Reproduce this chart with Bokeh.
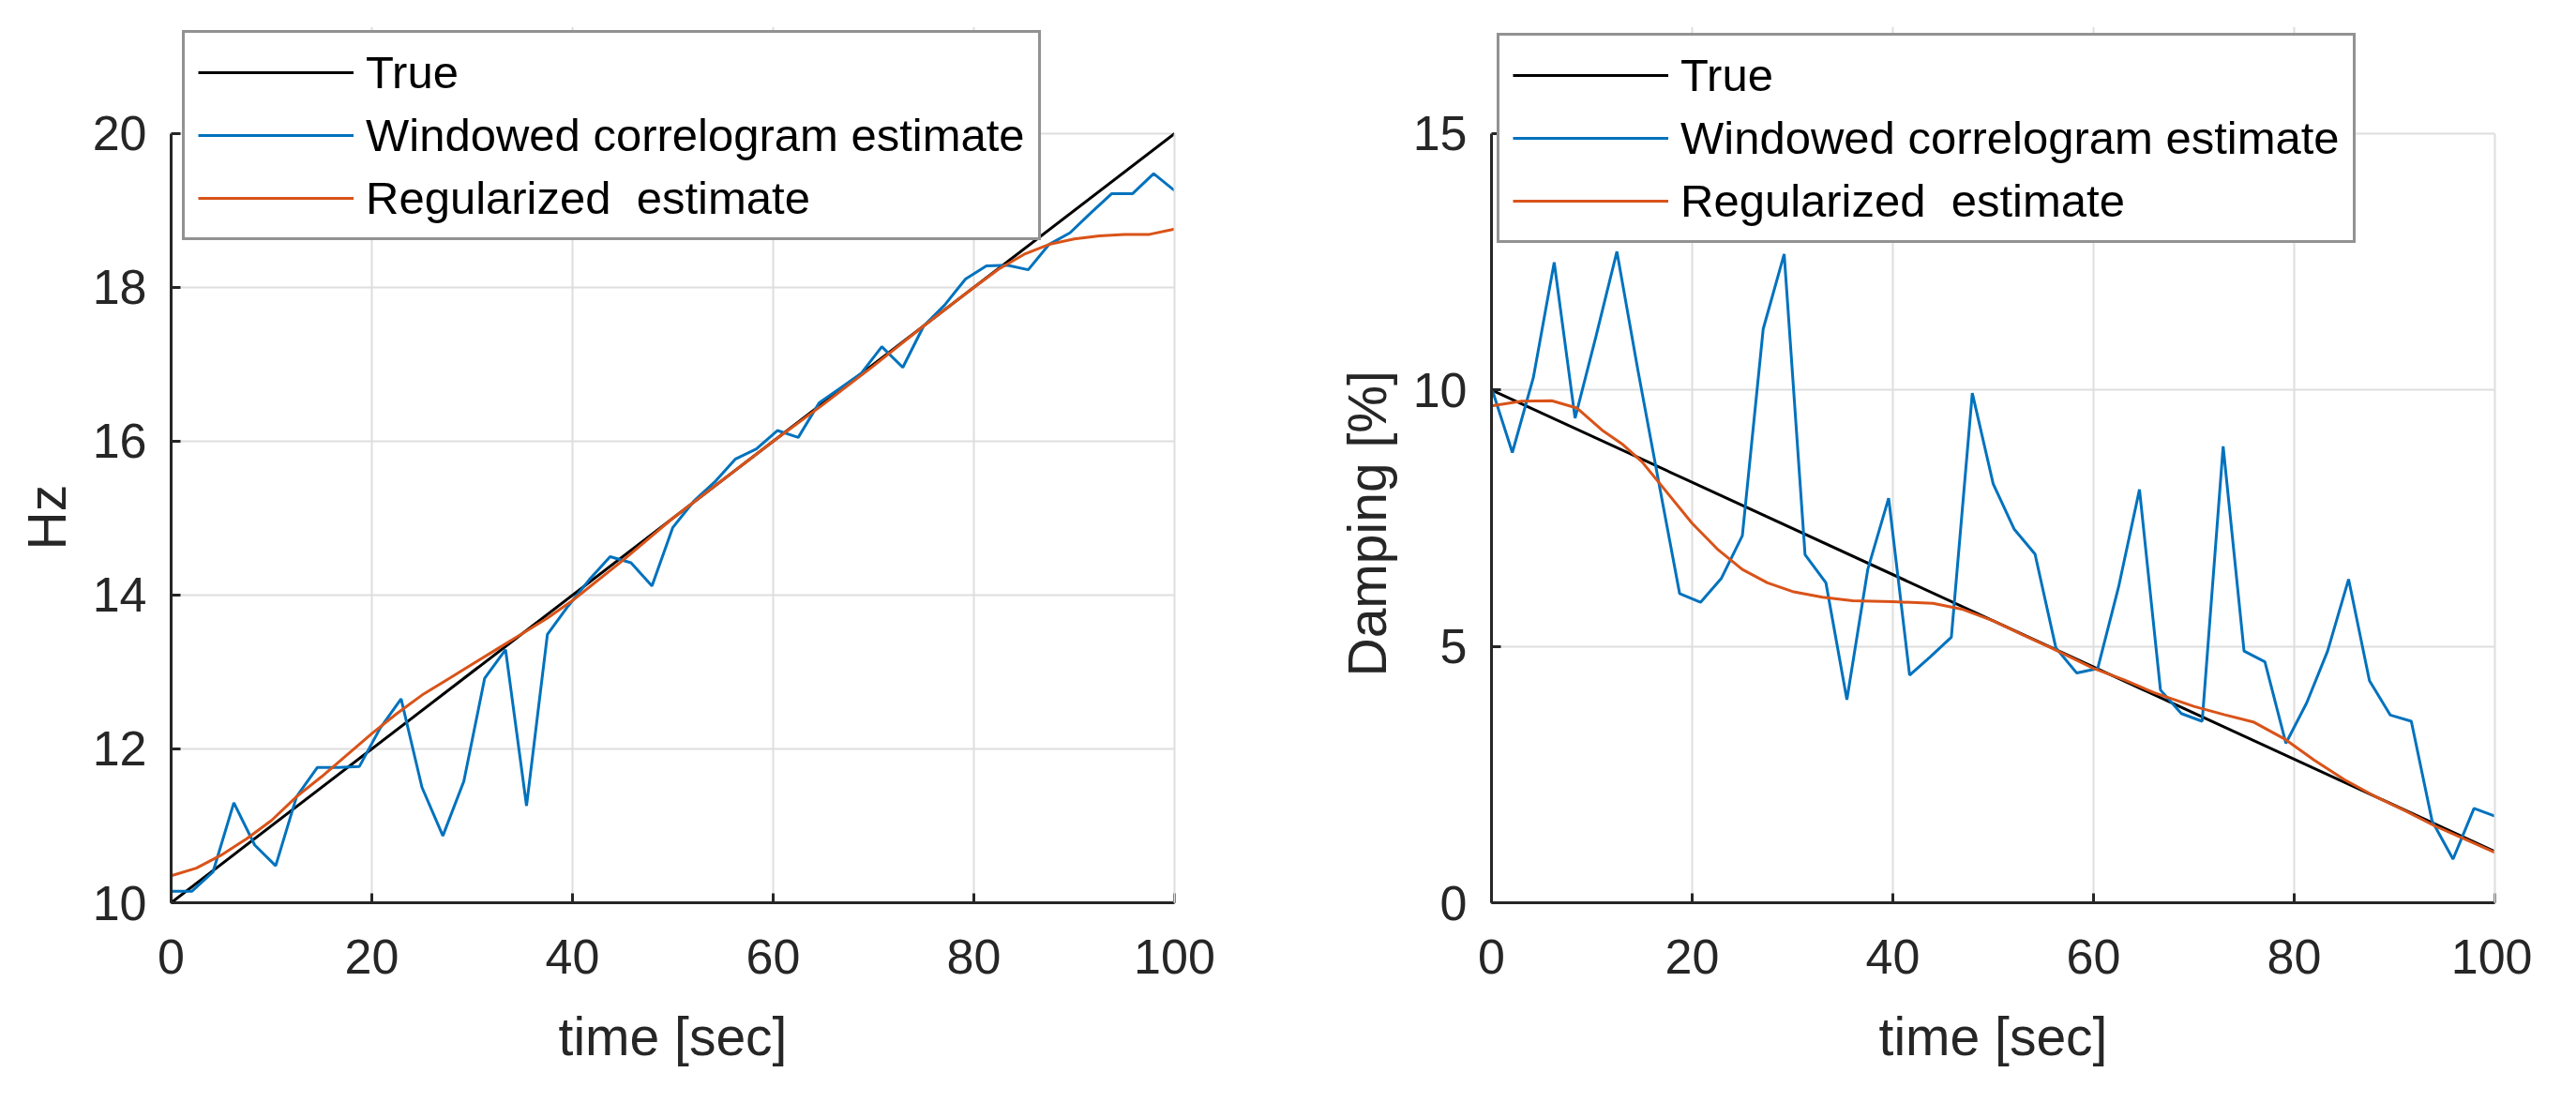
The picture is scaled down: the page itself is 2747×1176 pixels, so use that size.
from bokeh.plotting import figure
from bokeh.layouts import row
from bokeh.models import Range1d, FixedTicker, Legend, LegendItem, LinearAxis, Title
from bokeh.embed import file_html
from bokeh.resources import INLINE

# ---- data ----
# time stamps of the windowed correlogram estimate (49 windows)
t_win = [0, 2.08, 4.17, 6.25, 8.33, 10.42, 12.5, 14.58, 16.67, 18.75, 20.83, 22.92,
         25, 27.08, 29.17, 31.25, 33.33, 35.42, 37.5, 39.58, 41.67, 43.75, 45.83, 47.92,
         50, 52.08, 54.17, 56.25, 58.33, 60.42, 62.5, 64.58, 66.67, 68.75, 70.83, 72.92,
         75, 77.08, 79.17, 81.25, 83.33, 85.42, 87.5, 89.58, 91.67, 93.75, 95.83, 97.92, 100]

# left panel: frequency [Hz]
t_true = [0, 100]
hz_true = [10, 20]
hz_win = [10.15, 10.15, 10.4, 11.3, 10.75, 10.48, 11.38, 11.76, 11.76, 11.77, 12.27, 12.65,
          11.5, 10.87, 11.58, 12.92, 13.29, 11.26, 13.49, 13.86, 14.2, 14.5, 14.42, 14.12,
          14.88, 15.22, 15.47, 15.77, 15.9, 16.14, 16.05, 16.5, 16.69, 16.88, 17.23, 16.96,
          17.5, 17.77, 18.11, 18.28, 18.29, 18.23, 18.56, 18.71, 18.97, 19.22, 19.22, 19.48, 19.26]
t_reg_hz = [0, 2.5, 5, 7.5, 10, 12.5, 15, 17.5, 20, 22.5, 25, 27.5, 30, 32.5, 35, 37.5, 40,
            45, 50, 55, 60, 65, 70, 75, 80, 82.5, 85, 87.5, 90, 92.5, 95, 97.5, 100]
hz_reg = [10.35, 10.45, 10.62, 10.83, 11.07, 11.38, 11.64, 11.92, 12.2, 12.46, 12.7, 12.9,
          13.1, 13.3, 13.5, 13.7, 13.93, 14.45, 15.0, 15.5, 16.0, 16.48, 16.98, 17.5, 18.0,
          18.24, 18.43, 18.56, 18.63, 18.67, 18.69, 18.69, 18.76]

# right panel: damping [%]
dmp_true = [10, 1]
dmp_win = [10.05, 8.78, 10.24, 12.49, 9.45, 11.05, 12.7, 10.4, 8.2, 6.03, 5.86, 6.33,
           7.16, 11.19, 12.65, 6.79, 6.24, 3.96, 6.5, 7.89, 4.44, 4.8, 5.18, 9.94,
           8.17, 7.29, 6.8, 4.97, 4.48, 4.57, 6.16, 8.06, 4.15, 3.69, 3.54, 8.9,
           4.91, 4.7, 3.11, 3.9, 4.91, 6.31, 4.33, 3.66, 3.54, 1.59, 0.85, 1.84, 1.69]
t_reg_dmp = [0, 3, 6, 8.5, 11, 13, 15, 17.5, 20, 22.5, 25, 27.5, 30, 33, 36, 40, 44, 47, 50,
             53, 56, 60, 63, 66, 70, 73, 76, 79, 82, 85, 88, 91, 94, 97, 100]
dmp_reg = [9.69, 9.78, 9.79, 9.65, 9.22, 8.95, 8.6, 8.0, 7.4, 6.9, 6.5, 6.24, 6.07, 5.96,
           5.89, 5.87, 5.84, 5.72, 5.5, 5.22, 4.95, 4.57, 4.35, 4.1, 3.83, 3.67, 3.52, 3.2,
           2.78, 2.4, 2.08, 1.8, 1.5, 1.24, 0.98]

x_ticks = [0, 20, 40, 60, 80, 100]
hz_ticks = [10, 12, 14, 16, 18, 20]
dmp_ticks = [0, 5, 10, 15]

labels = ["True", "Windowed correlogram estimate", "Regularized  estimate"]
colors = ["#000000", "#0072BD", "#D95319"]

FONT = "Liberation Sans"
INK = "#262626"
GRID = "#dedede"


def panel(y_lo, y_hi, y_top, y_ticks, y_label, label_offset, y_true, y_win, t_reg, y_reg,
          border_left, border_right, legend_xy):
    # the frame reaches above the top tick so the legend can sit over it, as in the original
    p = figure(frame_width=1070, frame_height=934,
               x_range=Range1d(0, 100), y_range=Range1d(y_lo, y_top),
               min_border_left=border_left, min_border_right=border_right,
               min_border_top=28, min_border_bottom=190,
               x_axis_label="time [sec]",
               output_backend="svg", toolbar_location=None)
    p.background_fill_color = "white"
    p.border_fill_color = "white"
    p.outline_line_color = None

    p.xaxis.ticker = FixedTicker(ticks=x_ticks)
    p.yaxis.ticker = FixedTicker(ticks=y_ticks)
    p.yaxis.bounds = (y_lo, y_hi)
    for ax in (p.xaxis[0], p.yaxis[0]):
        ax.axis_line_color = INK
        ax.axis_line_width = 3
        ax.major_tick_line_color = INK
        ax.major_tick_line_width = 3
        ax.major_tick_in = 10
        ax.major_tick_out = 0
        ax.minor_tick_line_color = None
        ax.major_label_text_font = FONT
        ax.major_label_text_font_size = "52px"
        ax.major_label_text_color = INK
        ax.axis_label_text_font = FONT
        ax.axis_label_text_font_size = "57px"
        ax.axis_label_text_font_style = "normal"
        ax.axis_label_text_color = INK
    p.xaxis.major_label_standoff = 39
    p.yaxis.major_label_standoff = 26
    p.xaxis.axis_label_standoff = 32

    # y label centred on the 10..20 / 0..15 part of the frame, not on the whole frame
    ylab = Title(text=y_label, align="left", vertical_align="bottom", offset=label_offset,
                 standoff=28, text_font=FONT, text_font_size="57px",
                 text_font_style="normal", text_color=INK)
    p.add_layout(ylab, "left")

    p.grid.grid_line_color = GRID
    p.grid.grid_line_width = 2

    # grid line at t = 100, only over the data part of the frame
    edge = LinearAxis(ticker=FixedTicker(ticks=[]), bounds=(y_lo, y_hi),
                      axis_line_color=GRID, axis_line_width=2,
                      major_tick_line_color=None, minor_tick_line_color=None)
    p.add_layout(edge, "right")

    r0 = p.line(t_true, y_true, color=colors[0], line_width=3)
    r1 = p.line(t_win, y_win, color=colors[1], line_width=3)
    r2 = p.line(t_reg, y_reg, color=colors[2], line_width=3)

    legend = Legend(items=[LegendItem(label=labels[0], renderers=[r0]),
                           LegendItem(label=labels[1], renderers=[r1]),
                           LegendItem(label=labels[2], renderers=[r2])],
                    location=legend_xy)
    legend.label_text_font = FONT
    legend.label_text_font_size = "49px"
    legend.label_text_color = "#000000"
    legend.label_standoff = 13
    legend.glyph_width = 166
    legend.glyph_height = 54
    legend.label_height = 54
    legend.spacing = 11
    legend.padding = 14
    legend.margin = 0
    legend.border_line_color = INK
    legend.border_line_width = 3
    legend.background_fill_color = "white"
    legend.background_fill_alpha = 1.0
    p.add_layout(legend, "center")
    return p


p1 = panel(10, 20, 21.39, hz_ticks, "Hz", 376, hz_true, hz_win, t_reg_hz, hz_reg,
           182, 48, (12, 706))
p2 = panel(0, 15, 17.085, dmp_ticks, "Damping [%]", 241, dmp_true, dmp_win, t_reg_dmp, dmp_reg,
           290, 40, (6, 703))

layout = row(p1, p2)
open("out.html", "w").write(file_html(layout, INLINE))
